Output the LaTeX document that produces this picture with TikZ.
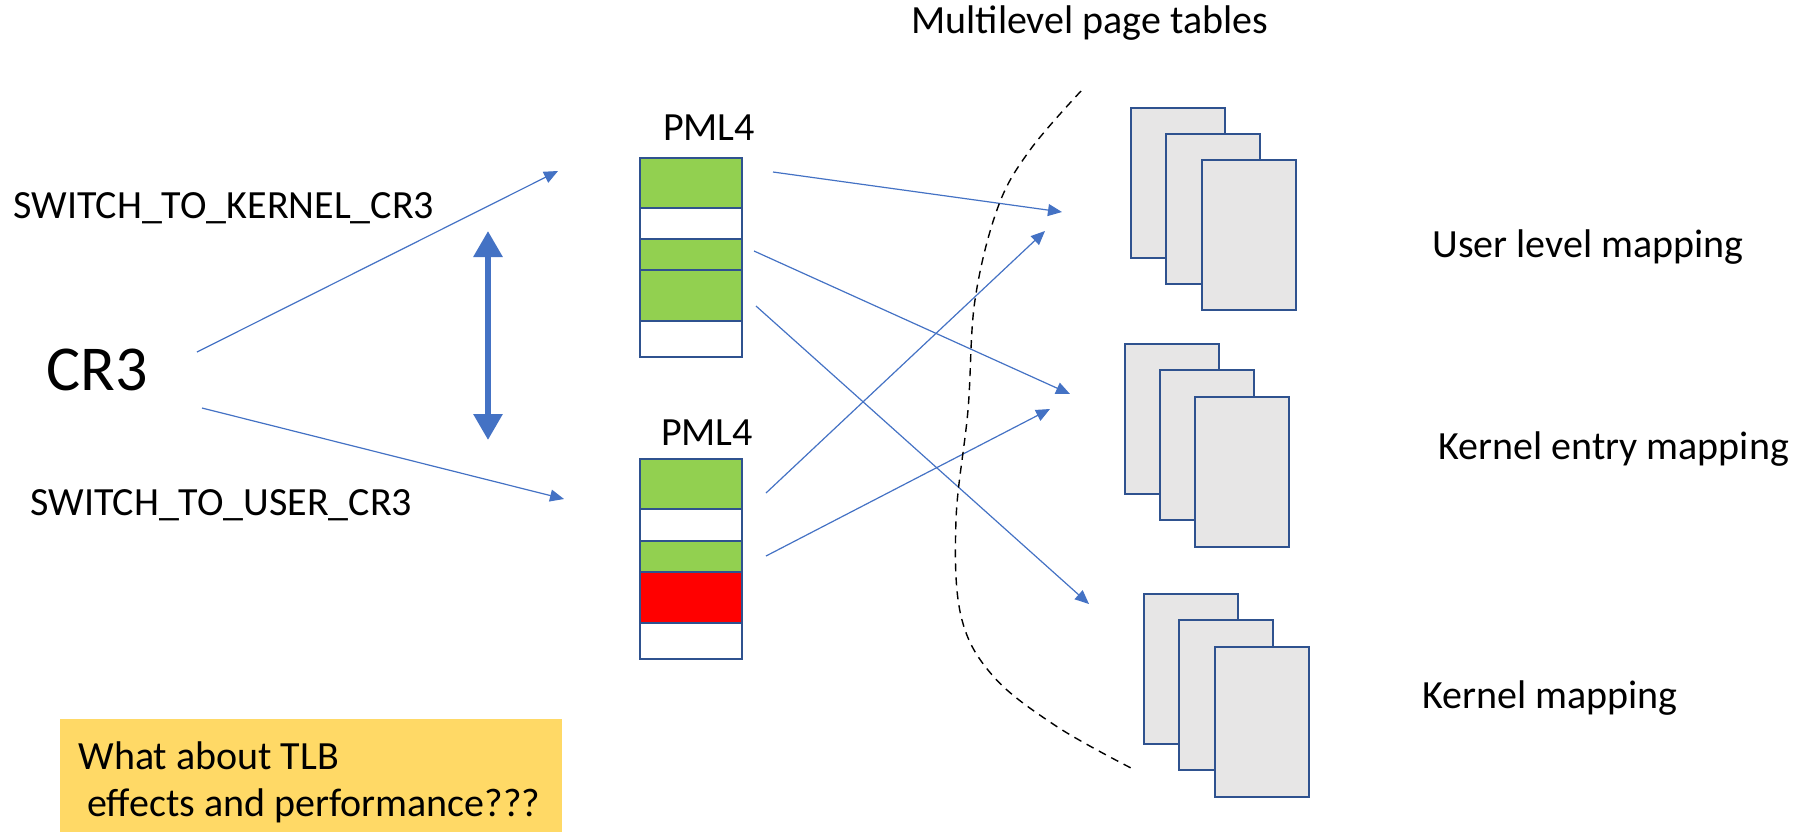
\documentclass[tikz,border=0pt]{standalone}
\usepackage{fontspec}
\setmainfont{Carlito}
\usetikzlibrary{arrows.meta}
\definecolor{arrowblue}{HTML}{4472C4}
\definecolor{tblue}{HTML}{2F528F}
\definecolor{tgreen}{HTML}{92D050}
\definecolor{tred}{HTML}{FF0000}
\definecolor{pgray}{HTML}{E7E6E6}
\definecolor{noteyellow}{HTML}{FFD966}
\begin{document}
\begin{tikzpicture}[x=0.5pt,y=-0.5pt,
  lbl/.style={font=\fontsize{20pt}{24pt}\selectfont, inner sep=0pt, anchor=base west},
  rowbox/.style={draw=tblue, line width=1pt, minimum width=51pt, inner sep=0pt, outer sep=0pt},
  page/.style={draw=tblue, line width=1pt, fill=pgray, minimum width=47pt, minimum height=75pt, inner sep=0pt},
  link/.style={draw=arrowblue, line width=0.6pt, -{Triangle[length=7pt,width=6pt]}},
  swapline/.style={draw=arrowblue, line width=3pt, {Triangle[length=13pt,width=14pt]}-{Triangle[length=13pt,width=14pt]}},
  divider/.style={draw=black, line width=0.7pt, dash pattern=on 4pt off 3pt},
  notebox/.style={fill=noteyellow, draw=none, minimum width=251pt, minimum height=56.5pt, inner sep=0pt}
]
\useasboundingbox (0,0) rectangle (1812,832);

% titles and labels
\node[lbl] (title) at (911,33) {Multilevel page tables};
\node[lbl, anchor=base] (pmlk) at (709,140) {PML4};
\node[lbl, anchor=base] (pmlu) at (707,445) {PML4};
\node[lbl] (swk) at (13,218) {SWITCH\_TO\_KERNEL\_CR3};
\node[lbl] (swu) at (30,515) {SWITCH\_TO\_USER\_CR3};
\node[lbl, font=\fontsize{32pt}{36pt}\selectfont] (cr3) at (46,390) {CR3};
\node[lbl] (ulm) at (1432,257) {User level mapping};
\node[lbl] (kem) at (1438,459) {Kernel entry mapping};
\node[lbl] (km) at (1422,708) {Kernel mapping};

% kernel PML4
\node[rowbox, fill=tgreen, minimum height=25pt] (ka) at (691,183) {};
\node[rowbox, fill=white, minimum height=15.5pt] (kb) at (691,223.5) {};
\node[rowbox, fill=tgreen, minimum height=15.5pt] (kc) at (691,254.5) {};
\node[rowbox, fill=tgreen, minimum height=25.5pt] (kd) at (691,295.5) {};
\node[rowbox, fill=white, minimum height=18pt] (ke) at (691,339) {};

% user PML4
\node[rowbox, fill=tgreen, minimum height=25pt] (ua) at (691,484) {};
\node[rowbox, fill=white, minimum height=16pt] (ub) at (691,525) {};
\node[rowbox, fill=tgreen, minimum height=15.5pt] (uc) at (691,556.5) {};
\node[rowbox, fill=tred, minimum height=25.5pt] (ud) at (691,597.5) {};
\node[rowbox, fill=white, minimum height=18pt] (ue) at (691,641) {};

% page stacks
\node[page] (u1) at (1178,182.5) {};
\node[page] (u2) at (1213,209) {};
\node[page] (u3) at (1249,235) {};
\node[page] (e1) at (1171.5,419) {};
\node[page] (e2) at (1206.5,445) {};
\node[page] (e3) at (1241.5,471.5) {};
\node[page] (m1) at (1191,669) {};
\node[page] (m2) at (1226,695) {};
\node[page] (m3) at (1261.5,721.5) {};

% note
\node[notebox] (note) at (311,775.5) {};
\node[lbl] (note1) at (78,769) {What about TLB};
\node[lbl] (note2) at (87,816) {effects and performance???};

% connector end points
\coordinate (c1s) at (197,352);
\coordinate (c1e) at (558,171);
\coordinate (c2s) at (202,408);
\coordinate (c2e) at (564,499);
\coordinate (k1s) at (773,172);
\coordinate (k1e) at (1062,212);
\coordinate (k3s) at (754,251);
\coordinate (k3e) at (1070,394);
\coordinate (k4s) at (756,306);
\coordinate (k4e) at (1089,604);
\coordinate (u1s) at (766,493);
\coordinate (u1e) at (1045,231);
\coordinate (u3s) at (766,556);
\coordinate (u3e) at (1050,409);
\coordinate (sw1) at (488,231);
\coordinate (sw2) at (488,440);

\draw[link] (c1s) -- (c1e);
\draw[link] (c2s) -- (c2e);
\draw[link] (k1s) -- (k1e);
\draw[link] (k3s) -- (k3e);
\draw[link] (k4s) -- (k4e);
\draw[link] (u1s) -- (u1e);
\draw[link] (u3s) -- (u3e);
\draw[swapline] (sw1) -- (sw2);

% divider
\draw[divider] plot[smooth, tension=0.6] coordinates {(1081,91) (1030,150) (998,207) (975,300) (968,410) (956,520) (961,616) (993,676) (1056,726) (1131,768)};
\end{tikzpicture}
\end{document}
